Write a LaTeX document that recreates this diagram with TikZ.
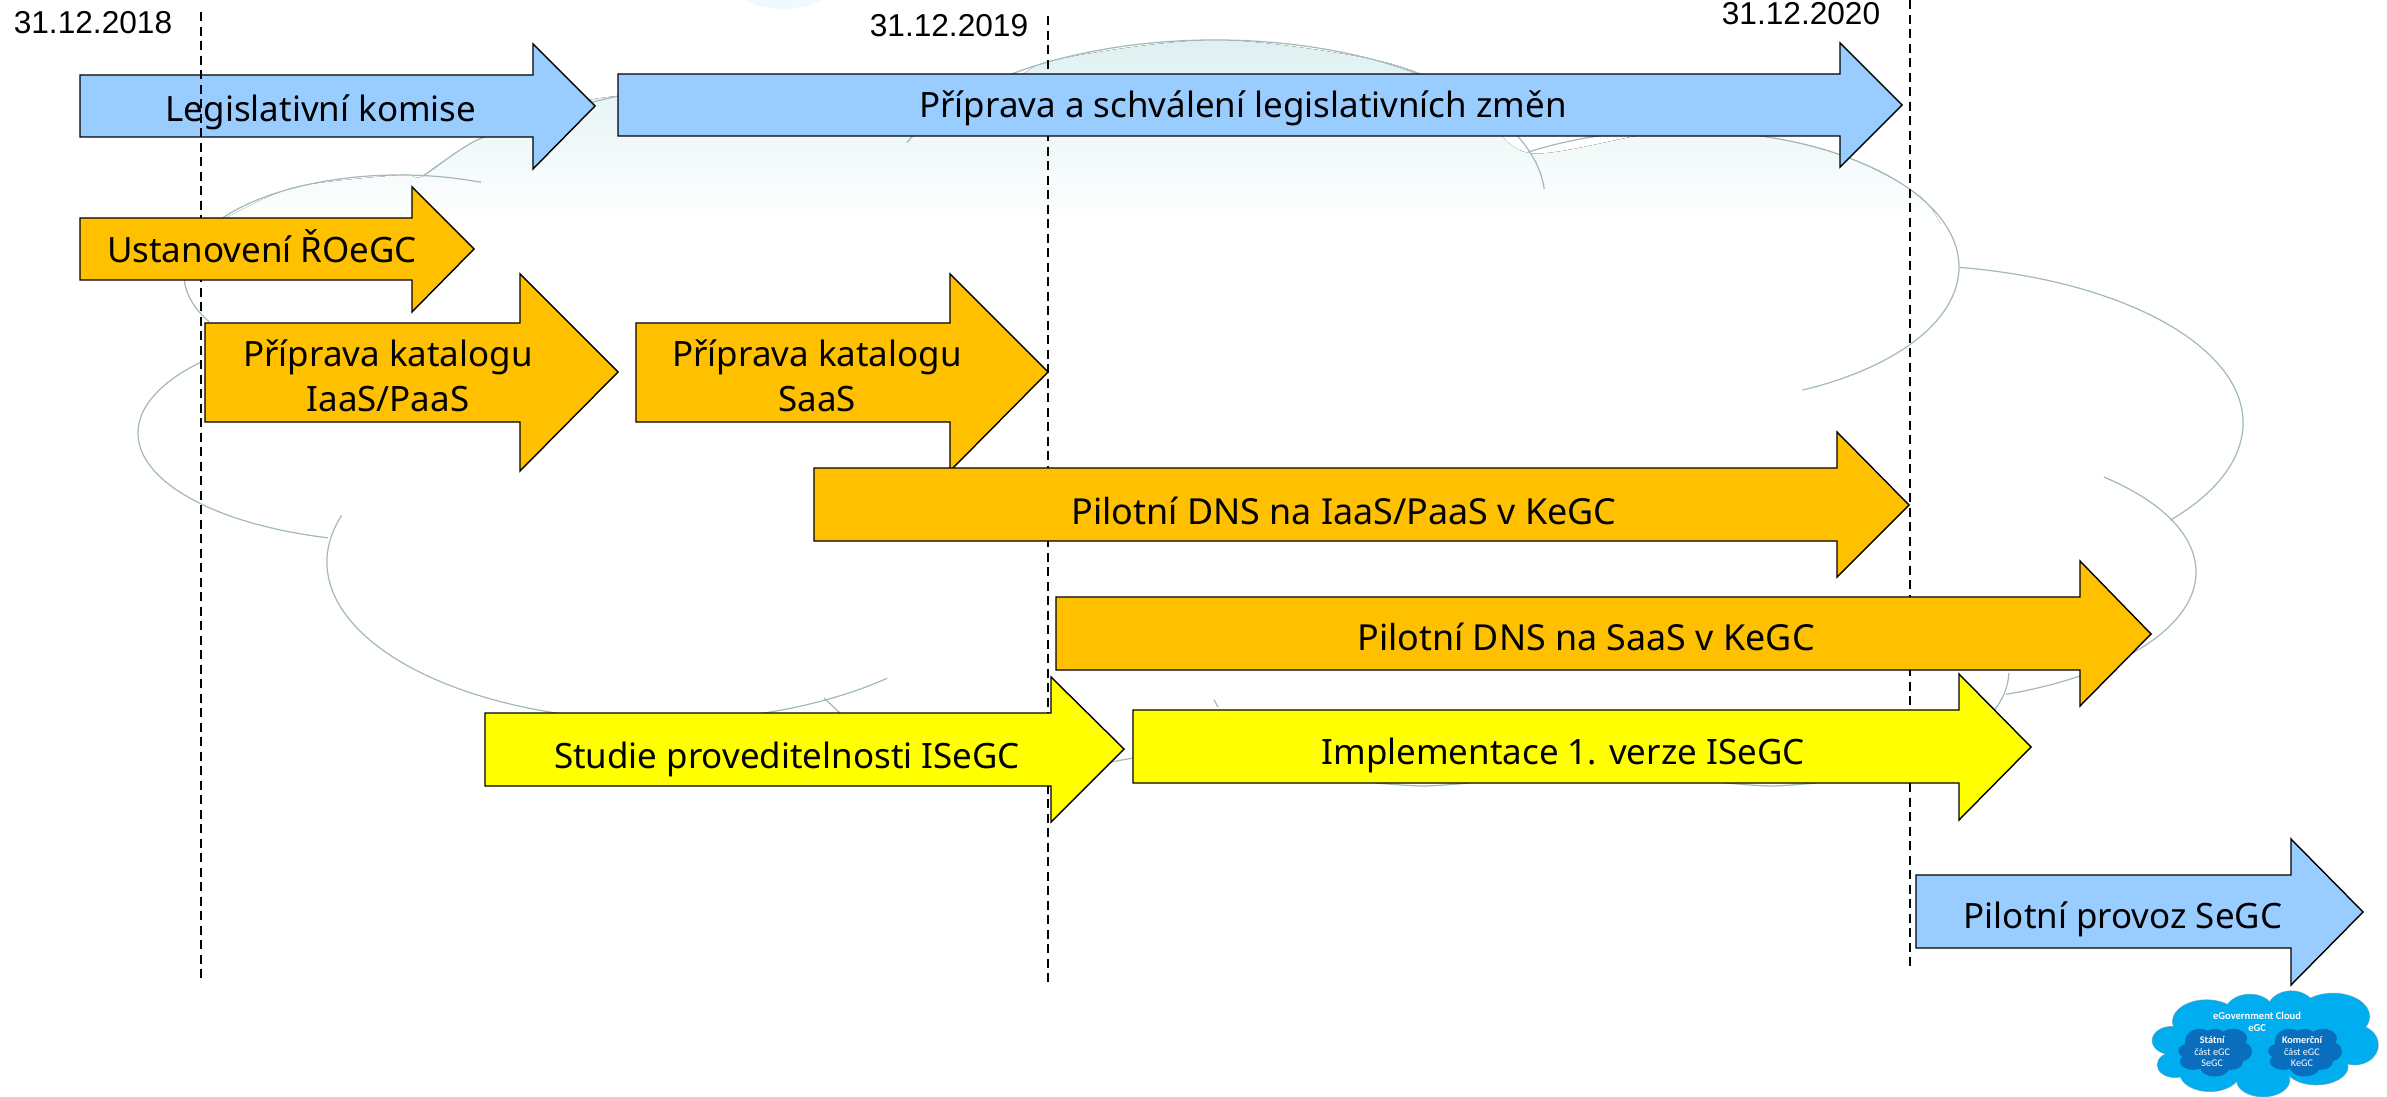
\documentclass[tikz,border=0pt]{standalone}
\usepackage{fontspec}
\setmainfont{Noto Sans}
\newfontfamily\datefont{Liberation Sans}
\newfontfamily\logofont{Carlito}
\definecolor{barblue}{HTML}{99CCFF}
\definecolor{barorange}{HTML}{FFC000}
\definecolor{baryellow}{HTML}{FFFF00}
\definecolor{cloudline}{HTML}{A3B9BD}
\definecolor{cloudtop}{HTML}{DFF0F0}
\definecolor{logoblue}{HTML}{00ADEF}
\definecolor{logodark}{HTML}{0A6EBE}
% one bulge of the big cloud: centre x, centre y, radii, start and end angle
\newcommand{\lobe}[6]{\draw[arc] (#1,#2) ++(#5:#3 and #4) arc [start angle=#5,end angle=#6,x radius=#3,y radius=#4];}

\begin{document}
\begin{tikzpicture}[
  x=0.01cm,y=-0.01cm,
  bluebar/.style={draw=black,line width=0.4pt,fill=barblue},
  orangebar/.style={draw=black,line width=0.4pt,fill=barorange},
  yellowbar/.style={draw=black,line width=0.4pt,fill=baryellow},
  barlabel/.style={anchor=base,inner sep=0pt,font=\fontsize{9.93}{12.8}\selectfont},
  widelabel/.style={barlabel,font=\fontsize{10.2}{12.8}\selectfont},
  datelabel/.style={inner sep=0pt,font=\datefont\fontsize{9}{11}\selectfont},
  deadline/.style={draw=black,line width=0.4pt,dash pattern=on 0.09cm off 0.055cm},
  arc/.style={draw=cloudline,line width=0.35pt},
  logotext/.style={inner sep=0pt,text=white,font=\logofont\fontsize{2.9}{3.4}\selectfont}
]
\useasboundingbox (0,0) rectangle (2387,1097);

% faint blob at the top edge
\fill[blue!30!cyan!7] (783,-30) ellipse [x radius=60,y radius=39];

% big cloud behind the bars
\begin{scope}
\clip plot[smooth] coordinates {(213,225) (292,188) (400,175) (423,176) (484,137) (618,96) (962,97) (1050,61) (1215,40) (1380,61) (1468,97) (1529,153) (1680,130) (1820,148) (1922,198) (1959,267)} -- (1959,300) -- (139,300) -- cycle;
\fill[top color=cloudtop,bottom color=white] (0,40) rectangle (2387,225);
\end{scope}
\lobe{1215}{200}{330}{160}{-159}{-4}
\lobe{1680}{267}{279}{137}{-123}{64}
\lobe{1900}{423}{343}{158}{-80}{38}
\lobe{1900}{572}{296}{131}{-46.5}{69}
\lobe{1900}{670}{109}{80}{2}{30}
\lobe{400}{275}{216}{100}{-68}{-208}
\lobe{400}{433}{262}{109}{221}{106}
\lobe{660}{562}{333}{159}{197}{47}
\draw[arc] plot[smooth] coordinates {(618,96) (550,113) (484,137) (460,150) (423,176)};
\draw[arc] (824,698) -- (840,713);
\draw[arc] (1111,762) -- (1133,758);
\draw[arc] (1214,700) -- (1218,707);
\draw[arc] plot[smooth] coordinates {(1376,783) (1423,786) (1470,783)};
\draw[arc] plot[smooth] coordinates {(1726,783) (1771,786) (1816,783)};

% first bar lies under the dashed line
\draw[bluebar] (80,75) -- (533,75) -- (533,44) -- (595,106) -- (533,169) -- (533,137) -- (80,137) -- cycle;

% year ends
\coordinate (y18top) at (201,12);
\coordinate (y18end) at (201,979);
\coordinate (y19top) at (1048,16);
\coordinate (y19end) at (1048,984);
\coordinate (y20top) at (1910,0);
\coordinate (y20end) at (1910,968);
\draw[deadline] (y18top) -- (y18end);
\draw[deadline] (y19top) -- (y19end);
\draw[deadline] (y20top) -- (y20end);
\node[datelabel] (d18) at (93,23) {31.12.2018};
\node[datelabel] (d19) at (949,26) {31.12.2019};
\node[datelabel] (d20) at (1801,14) {31.12.2020};

% bars
\draw[bluebar] (618,74) -- (1840,74) -- (1840,43) -- (1902,105) -- (1840,167) -- (1840,136) -- (618,136) -- cycle;
\draw[orangebar] (80,218) -- (412,218) -- (412,187) -- (474,249) -- (412,312) -- (412,280) -- (80,280) -- cycle;
\draw[orangebar] (205,323) -- (520,323) -- (520,274) -- (618,372) -- (520,471) -- (520,422) -- (205,422) -- cycle;
\draw[orangebar] (636,323) -- (950,323) -- (950,274) -- (1048,372) -- (950,471) -- (950,422) -- (636,422) -- cycle;
\draw[orangebar] (814,468) -- (1837,468) -- (1837,432) -- (1909,505) -- (1837,577) -- (1837,541) -- (814,541) -- cycle;
\draw[orangebar] (1056,597) -- (2080,597) -- (2080,561) -- (2151,634) -- (2080,706) -- (2080,670) -- (1056,670) -- cycle;
\draw[yellowbar] (485,713) -- (1051,713) -- (1051,677) -- (1124,749) -- (1051,822) -- (1051,786) -- (485,786) -- cycle;
\draw[yellowbar] (1133,710) -- (1959,710) -- (1959,674) -- (2031,747) -- (1959,820) -- (1959,783) -- (1133,783) -- cycle;
\draw[bluebar] (1916,875) -- (2291,875) -- (2291,839) -- (2363,912) -- (2291,985) -- (2291,948) -- (1916,948) -- cycle;

\node[barlabel] (komise) at (321,122) {Legislativní komise};
\node[barlabel] (zmeny) at (1243,118) {Příprava a schválení legislativních změn};
\node[barlabel] (roegc) at (262,262) {Ustanovení ŘOeGC};
\node[barlabel,anchor=center,align=center] (katiaas) at (388,376) {Příprava katalogu\\IaaS/PaaS};
\node[barlabel,anchor=center,align=center] (katsaas) at (817,376) {Příprava katalogu\\SaaS};
\node[widelabel] (dnsiaas) at (1344,524) {Pilotní DNS na IaaS/PaaS v KeGC};
\node[widelabel] (dnssaas) at (1586,650) {Pilotní DNS na SaaS v KeGC};
\node[barlabel] (studie) at (787,768) {Studie proveditelnosti ISeGC};
\node[barlabel] (impl) at (1563,764) {Implementace 1. verze ISeGC};
\node[barlabel] (provoz) at (2123,928) {Pilotní provoz SeGC};

% small cloud in the corner
\begin{scope}[shift={(2100,950)},x=0.0033333cm,y=-0.0033333cm]
\foreach \cx/\cy/\rx/\ry in {320/215/102/65,450/190/75/57,575/180/72/57,700/200/110/70,765/285/71/60,215/272/58/42,225/345/53/38,330/370/90/55,490/390/80/51,650/350/95/55}{
  \draw[draw=cloudline,line width=0.3pt] (\cx,\cy) ellipse [x radius=\rx,y radius=\ry];
}
\foreach \cx/\cy/\rx/\ry in {320/215/102/65,450/190/75/57,575/180/72/57,700/200/110/70,765/285/71/60,215/272/58/42,225/345/53/38,330/370/90/55,490/390/80/51,650/350/95/55,490/280/260/100}{
  \fill[logoblue] (\cx,\cy) ellipse [x radius=\rx,y radius=\ry];
}
\foreach \dx in {0,270}{
  \foreach \cx/\cy/\rx/\ry in {300/275/45/38,345/265/35/28,400/265/42/28,420/305/37/30,270/303/35/22,280/335/40/25,345/350/45/30,395/335/35/25,345/305/70/40}{
    \fill[logodark] (\cx+\dx,\cy) ellipse [x radius=\rx,y radius=\ry];
  }
}
\node[logotext,font=\logofont\bfseries\fontsize{3}{3.6}\selectfont] (egovt) at (472,197) {eGovernment Cloud};
\node[logotext,font=\logofont\bfseries\fontsize{3}{3.6}\selectfont] (egc) at (472,236) {eGC};
\node[logotext,font=\logofont\bfseries\fontsize{2.9}{3.4}\selectfont] (statni) at (337,271) {Státní};
\node[logotext] (castl) at (337,306) {část eGC};
\node[logotext] (segc) at (337,341) {SeGC};
\node[logotext,font=\logofont\bfseries\fontsize{2.9}{3.4}\selectfont] (komerc) at (607,271) {Komerční};
\node[logotext] (castr) at (607,306) {část eGC};
\node[logotext] (kegc) at (607,341) {KeGC};
\end{scope}
\end{tikzpicture}
\end{document}
